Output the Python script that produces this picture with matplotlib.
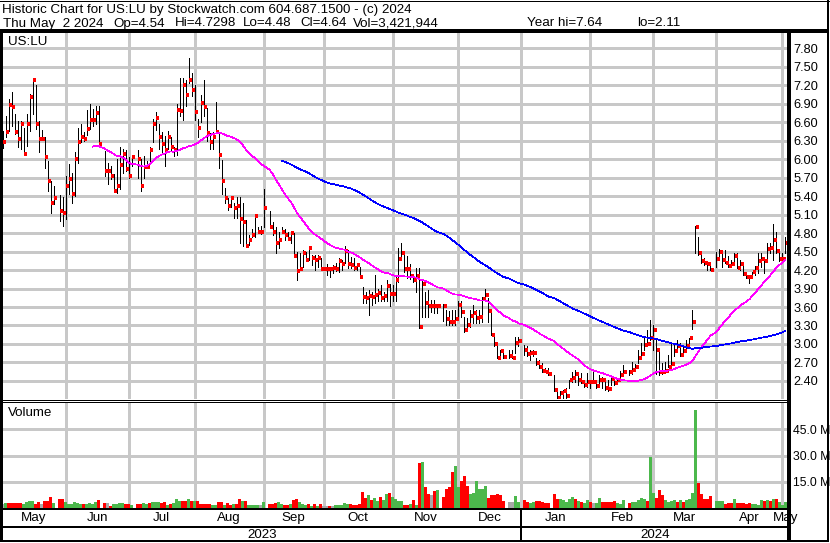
import numpy as np
import pandas as pd
import matplotlib
matplotlib.use("Agg")
import matplotlib.pyplot as plt
from matplotlib.lines import Line2D
from matplotlib.transforms import blended_transform_factory

plt.rcParams['font.family'] = ['Liberation Sans', 'DejaVu Sans']

# ---------------- data ----------------
first_day = "2023-05-03"
last_day = "2024-05-02"
holidays = ["2023-05-29", "2023-06-19", "2023-07-04", "2023-09-04", "2023-11-23",
            "2023-12-25", "2024-01-01", "2024-01-15", "2024-02-19", "2024-03-29"]

high = [
    6.45, 6.70, 6.97, 7.09, 6.73, 6.62, 6.61, 6.50, 6.73, 7.05, 7.32, 7.20, 6.62, 6.47, 6.36, 5.96, 5.65, 5.56,
    5.42, 5.38, 5.73, 5.92, 5.78, 6.11, 6.50, 6.56, 6.43, 6.79, 6.89, 6.81, 6.86, 6.86,
    6.13, 5.93, 5.89, 5.75, 6.00, 6.19, 6.17, 6.15, 6.04, 6.04,
    6.14, 6.00, 6.05, 5.97, 6.20, 6.65, 6.77, 6.56, 6.43, 6.38, 6.46, 6.36, 6.20,
    6.89, 7.32, 7.32, 7.28, 7.64, 7.40, 7.20, 6.65, 7.04, 7.28, 6.83, 6.42, 6.44, 6.93, 6.42,
    5.98, 5.53, 5.36, 5.37, 5.28, 5.38, 5.38, 5.28, 5.01, 4.77, 4.86, 5.08, 4.90, 4.92, 5.51,
    5.16, 4.98, 4.90, 4.82, 4.90, 4.86, 4.82, 4.82, 4.80, 4.50,
    4.47, 4.52, 4.50, 4.58, 4.44, 4.44, 4.44, 4.39, 4.25, 4.30,
    4.25, 4.28, 4.31, 4.39, 4.36, 4.59, 4.52, 4.41, 4.39, 4.31,
    4.25, 3.93, 3.85, 3.88, 3.85, 4.12, 3.90, 3.96, 3.85, 4.03,
    3.98, 3.96, 4.12, 4.55, 4.63, 4.45, 4.42, 4.30, 4.12, 4.23,
    4.23, 4.03, 3.85, 3.88, 3.71, 3.71, 3.65,
    3.65, 3.55, 3.53, 3.55, 3.55, 3.70, 3.69, 3.44, 3.42, 3.55,
    3.63, 3.55, 3.55, 3.76, 3.90, 3.74, 3.50, 3.15, 3.01, 2.90, 2.90,
    2.90, 2.90, 3.12, 3.12,
    2.98, 2.96, 2.90, 2.90, 2.77, 2.74, 2.69, 2.61, 2.61,
    2.50, 2.23, 2.23, 2.25, 2.28, 2.42, 2.55, 2.58, 2.50, 2.53,
    2.42, 2.53, 2.42, 2.55, 2.39, 2.50, 2.46, 2.42, 2.42, 2.49, 2.46, 2.44, 2.57, 2.66,
    2.58, 2.71, 2.67, 2.90, 3.01, 3.09, 3.23, 3.39, 3.31, 3.09,
    2.90, 2.69, 2.71, 2.82, 3.01, 3.01, 3.07, 3.01, 2.98, 3.07,
    3.10, 3.55, 4.91, 4.74, 4.47, 4.39, 4.34, 4.31,
    4.50, 4.54, 4.50, 4.52, 4.42, 4.36, 4.47, 4.47, 4.36, 4.31,
    4.17, 4.12, 4.17, 4.26, 4.47, 4.47, 4.39, 4.63, 4.63, 4.95,
    4.82, 4.52, 4.47, 4.73,
]
low = [
    6.18, 6.35, 6.46, 6.54, 6.40, 6.20, 6.16, 6.08, 6.21, 6.46, 6.73, 6.49, 6.12, 6.32, 5.86, 5.48, 5.13, 5.27,
    5.00, 4.92, 5.02, 5.43, 5.28, 5.40, 5.93, 6.27, 6.29, 6.39, 6.48, 6.54, 6.56, 6.21,
    5.73, 5.59, 5.67, 5.46, 5.45, 5.51, 5.78, 5.81, 5.70, 5.89,
    5.70, 5.48, 5.70, 5.86, 5.94, 6.28, 6.47, 6.16, 6.11, 5.89, 6.16, 6.13, 6.05,
    6.06, 6.70, 6.64, 6.86, 7.24, 7.02, 6.63, 6.36, 6.60, 6.70, 6.30, 6.16, 6.16, 6.42, 5.85,
    5.44, 5.28, 5.17, 5.22, 5.04, 5.04, 4.63, 4.59, 4.59, 4.61, 4.74, 4.74, 4.80, 4.78, 4.90,
    4.90, 4.77, 4.48, 4.55, 4.80, 4.69, 4.69, 4.63, 4.43, 4.03,
    4.20, 4.25, 4.34, 4.36, 4.28, 4.20, 4.25, 4.20, 4.20, 4.12,
    4.08, 4.15, 4.19, 4.17, 4.20, 4.31, 4.24, 4.24, 4.20, 4.20,
    4.07, 3.66, 3.66, 3.47, 3.63, 3.66, 3.69, 3.69, 3.69, 3.69,
    3.62, 3.70, 3.69, 4.01, 4.42, 4.17, 4.07, 4.06, 4.01, 3.85,
    3.26, 3.44, 3.44, 3.44, 3.52, 3.50, 3.50,
    3.37, 3.31, 3.30, 3.30, 3.31, 3.40, 3.44, 3.20, 3.26, 3.28,
    3.34, 3.34, 3.34, 3.36, 3.69, 3.36, 3.15, 2.96, 2.77, 2.77, 2.77,
    2.78, 2.77, 2.85, 2.96,
    2.82, 2.80, 2.74, 2.80, 2.66, 2.61, 2.55, 2.55, 2.50,
    2.23, 2.11, 2.12, 2.12, 2.12, 2.28, 2.39, 2.39, 2.34, 2.36,
    2.31, 2.31, 2.29, 2.36, 2.28, 2.34, 2.28, 2.25, 2.23, 2.33, 2.33, 2.36, 2.40, 2.50,
    2.50, 2.52, 2.58, 2.69, 2.77, 2.90, 2.98, 3.07, 2.90, 2.52,
    2.50, 2.52, 2.55, 2.63, 2.63, 2.80, 2.88, 2.80, 2.82, 2.93,
    3.01, 3.25, 4.47, 4.44, 4.31, 4.28, 4.20, 4.20,
    4.25, 4.36, 4.25, 4.31, 4.25, 4.25, 4.33, 4.23, 4.20, 4.12,
    4.07, 3.99, 4.07, 4.12, 4.15, 4.25, 4.15, 4.34, 4.47, 4.36,
    4.47, 4.34, 4.34, 4.48,
]
close = [
    6.28, 6.44, 6.88, 6.85, 6.44, 6.33, 6.57, 6.08, 6.57, 7.01, 7.28, 6.57, 6.33, 6.33, 6.04, 5.65, 5.29, 5.37,
    5.15, 5.12, 5.56, 5.68, 5.43, 6.00, 6.28, 6.36, 6.32, 6.48, 6.64, 6.64, 6.75, 6.24,
    5.81, 5.81, 5.73, 5.48, 5.56, 5.90, 6.08, 5.83, 5.73, 6.04,
    6.00, 5.56, 5.87, 5.87, 6.14, 6.57, 6.66, 6.36, 6.25, 6.14, 6.36, 6.20, 6.14,
    6.79, 6.78, 7.20, 7.04, 7.28, 7.12, 6.77, 6.51, 6.91, 6.84, 6.42, 6.27, 6.35, 6.43, 6.07,
    5.64, 5.36, 5.23, 5.36, 5.20, 5.23, 5.03, 4.98, 4.59, 4.68, 4.76, 5.07, 4.82, 4.82, 5.20,
    4.90, 4.82, 4.63, 4.68, 4.82, 4.76, 4.71, 4.80, 4.43, 4.19,
    4.22, 4.47, 4.36, 4.55, 4.40, 4.36, 4.39, 4.22, 4.22, 4.22,
    4.22, 4.24, 4.22, 4.35, 4.30, 4.51, 4.30, 4.28, 4.23, 4.28,
    4.08, 3.77, 3.75, 3.78, 3.77, 3.79, 3.83, 3.75, 3.78, 3.94,
    3.81, 3.81, 4.03, 4.38, 4.47, 4.22, 4.22, 4.11, 4.03, 4.10,
    3.28, 3.97, 3.67, 3.62, 3.62, 3.62, 3.61,
    3.61, 3.40, 3.36, 3.36, 3.40, 3.63, 3.52, 3.22, 3.31, 3.45,
    3.50, 3.42, 3.43, 3.73, 3.80, 3.54, 3.15, 3.00, 2.78, 2.88, 2.79,
    2.80, 2.78, 3.01, 3.05,
    2.91, 2.84, 2.85, 2.85, 2.69, 2.62, 2.56, 2.55, 2.52,
    2.25, 2.13, 2.20, 2.23, 2.15, 2.41, 2.45, 2.51, 2.41, 2.39,
    2.34, 2.38, 2.39, 2.39, 2.32, 2.42, 2.42, 2.28, 2.27, 2.44, 2.36, 2.41, 2.49, 2.54,
    2.54, 2.58, 2.63, 2.77, 2.84, 2.98, 3.00, 3.10, 3.22, 2.90,
    2.54, 2.54, 2.57, 2.63, 2.68, 2.89, 2.96, 2.82, 2.89, 2.96,
    3.09, 3.36, 4.90, 4.47, 4.34, 4.31, 4.29, 4.20,
    4.38, 4.50, 4.36, 4.32, 4.27, 4.29, 4.43, 4.24, 4.29, 4.13,
    4.09, 4.08, 4.16, 4.23, 4.34, 4.38, 4.35, 4.54, 4.55, 4.68,
    4.51, 4.38, 4.38, 4.64,
]
volume_m = [
    2.5, 3.0, 2.8, 2.8, 2.8, 3.0, 3.2, 2.1, 3.4, 4.2, 3.8, 2.5, 3.6, 2.1, 4.2, 4.2, 6.4, 3.0,
    5.3, 5.3, 3.4, 2.1, 2.6, 3.6, 3.0, 2.6, 2.1, 2.6, 3.0, 2.6, 3.6, 4.7,
    3.0, 3.0, 1.3, 2.1, 2.5, 2.8, 3.0, 2.5, 2.5, 1.9,
    2.5, 2.5, 3.0, 2.6, 3.0, 3.6, 3.6, 3.6, 3.0, 3.6, 1.9, 2.5, 3.0,
    5.3, 4.3, 4.2, 4.2, 5.3, 4.2, 4.0, 4.0, 2.5, 2.5, 2.5, 2.5, 1.9, 1.9, 3.6,
    3.6, 1.9, 3.0, 1.9, 2.5, 2.5, 5.3, 4.2, 4.2, 1.9, 1.9, 1.9, 1.9, 1.9, 3.6,
    2.5, 2.5, 3.0, 3.6, 2.5, 1.9, 1.9, 2.5, 4.7, 5.1,
    3.6, 2.5, 1.9, 2.5, 1.3, 2.5, 1.3, 2.5, 1.3, 1.3,
    1.3, 1.3, 1.9, 1.9, 1.9, 3.0, 2.5, 2.5, 1.9, 1.9,
    2.5, 9.2, 5.8, 7.5, 4.7, 5.8, 4.2, 6.4, 4.7, 8.1,
    8.7, 6.4, 5.3, 4.2, 4.2, 1.9, 1.9, 2.5, 4.7, 1.9,
    25.5, 26.2, 12.1, 8.3, 7.2, 9.8, 10.4,
    6.6, 10.9, 12.1, 20.6, 24.2, 12.1, 15.7, 18.3, 12.6, 8.1,
    8.7, 15.5, 10.9, 10.9, 12.6, 6.0, 7.5, 7.5, 8.1, 7.5, 4.2,
    3.6, 3.6, 7.0, 3.6,
    4.7, 3.6, 3.0, 3.6, 4.2, 3.8, 3.6, 3.0, 3.0,
    8.1, 5.3, 5.3, 4.7, 3.6, 5.3, 6.4, 5.3, 4.2, 3.6,
    3.0, 4.7, 3.6, 3.0, 3.0, 5.8, 3.6, 3.6, 3.6, 3.6, 4.2, 3.0, 2.5, 4.7,
    3.0, 3.6, 3.6, 4.7, 5.8, 5.3, 4.2, 29.2, 8.7, 5.8,
    10.4, 7.5, 4.7, 3.6, 4.2, 4.7, 3.6, 4.7, 3.6, 4.7,
    5.3, 8.7, 55.7, 14.3, 8.1, 5.3, 5.3, 7.0,
    4.2, 4.2, 4.2, 2.5, 3.0, 3.0, 5.3, 3.0, 3.0, 3.0,
    2.5, 3.0, 2.5, 2.5, 1.9, 4.7, 4.2, 4.7, 4.2, 5.3,
    5.3, 3.6, 1.9, 3.4,
]
# u = up (green), d = down (red), n = unchanged (grey)
vol_dir = ("nuddddduuuuddndddu" "dduuuuuuduuuud" "dnduuuuddu"
           "dduuduuuddudu" "uuddududdddduud" "duddudduduuuunu"
           "ddduuddudd" "uuudududnn" "dnuuuuuddd" "ddduduuduu" "duuuuddudu" "duddndu"
           "dddduuddduuuuuudddddd" "nnuu" "dduuddddd"
           "dduuuuudud" "uudnuudddd" "duuu"
           "duuuuuduud" "dduuuududu" "uuuddddd"
           "uuuddduddd" "dduuuududu" "duuu")

ticker = "US:LU"
title_line1 = "Historic Chart for US:LU by Stockwatch.com 604.687.1500 - (c) 2024"
title_fields = ["Thu May  2 2024", "Op=4.54", "Hi=4.7298", "Lo=4.48", "Cl=4.64",
                "Vol=3,421,944", "Year hi=7.64", "lo=2.11"]
price_ticks = [2.40, 2.70, 3.00, 3.30, 3.60, 3.90, 4.20, 4.50, 4.80, 5.10,
               5.40, 5.70, 6.00, 6.30, 6.60, 6.90, 7.20, 7.50, 7.80]
volume_ticks = [15, 30, 45]
month_names = ["May", "Jun", "Jul", "Aug", "Sep", "Oct", "Nov", "Dec",
               "Jan", "Feb", "Mar", "Apr", "May"]
year_names = ["2023", "2024"]
ma_short, ma_long = 30, 90

# ---------------- positions (weekday slots) ----------------
bdays = pd.bdate_range(first_day, last_day)
trade_days = bdays[~bdays.isin(pd.to_datetime(holidays))]
d0 = np.datetime64(first_day)
slot = np.busday_count(d0, trade_days.values.astype('datetime64[D]')).astype(float)
n = min(len(slot), len(close), len(high), len(low), len(volume_m), len(vol_dir))
slot = slot[:n]
high = np.array(high[:n]); low = np.array(low[:n]); close = np.array(close[:n])
volume_m = np.array(volume_m[:n]); vol_dir = vol_dir[:n]

month_starts = pd.date_range("2023-06-01", "2024-05-01", freq="MS")
month_lines = [int(np.busday_count(d0, np.busday_offset(np.datetime64(m.date()), 0, roll='backward')))
               for m in month_starts]
year_line = month_lines[7]  # January 2024

# ---------------- figure layout ----------------
W, H = 830, 543
fig = plt.figure(figsize=(W / 100, H / 100), dpi=100)
fig.patch.set_facecolor('white')

def fx(px):
    return px / W

def fy(py):
    return 1 - py / H

XMIN, XMAX = -0.17, 262.17
GRID = '#c8c8c8'
FS = 9.6

ax = fig.add_axes([fx(2), fy(399), 787 / W, 368 / H])
axv = fig.add_axes([fx(2), fy(509), 787 / W, 107 / H])

for a in (ax, axv):
    a.set_xlim(XMIN, XMAX)
    for s in a.spines.values():
        s.set_visible(False)
    a.set_xticks(month_lines)
    a.tick_params(axis='x', length=0, labelbottom=False)
    a.tick_params(axis='y', length=0, pad=3.2, labelsize=9.2, labelright=True,
                  labelleft=False, labelcolor='black')
    a.grid(True, color=GRID, lw=0.75, antialiased=False)
    a.set_axisbelow(True)

# price panel
ax.set_ylim(2.108, 8.076)
ax.set_yticks(price_ticks)
ax.set_yticklabels([f"{v:.2f}" for v in price_ticks])
ax.vlines(slot, low, high, color='black', lw=0.6, antialiased=False, zorder=3)
ax.hlines(close, slot + 0.2, slot + 1.1, color='#ff0000', lw=1.7, antialiased=False, zorder=4)
ma_s = pd.Series(close).rolling(ma_short).mean().values
ma_l = pd.Series(close).rolling(ma_long).mean().values
ax.plot(slot, ma_s, color='#ff00ff', lw=0.5, antialiased=False, zorder=5)
ax.plot(slot, ma_l, color='#0000ff', lw=0.5, antialiased=False, zorder=5)
fig.text(fx(8), fy(42), ticker, fontsize=FS, va='center', ha='left')

# volume panel
vcol = {'u': '#4cb84c', 'd': '#ff0000', 'n': '#a8a8a8'}
axv.set_ylim(-0.5, 60.5)
axv.set_yticks(volume_ticks)
axv.set_yticklabels([f"{v:.1f} M" for v in volume_ticks])
axv.tick_params(axis='y', labelsize=8.8, pad=2.6)
axv.bar(slot, volume_m, width=0.72, color=[vcol[c] for c in vol_dir],
        antialiased=False, zorder=3, linewidth=0)
fig.text(fx(8), fy(413), "Volume", fontsize=FS, va='center', ha='left')

# title
fig.text(fx(2), fy(10), title_line1, fontsize=FS, va='center', ha='left')
field_x = [3, 113, 175, 243, 300, 353, 527, 637]
for px, t in zip(field_x, title_fields):
    fig.text(fx(px), fy(23.5), t, fontsize=FS, va='center', ha='left')

# month / year rows
bt = blended_transform_factory(ax.transData, fig.transFigure)
edges = [XMIN] + month_lines + [XMAX]
for i, name in enumerate(month_names):
    cx = (edges[i] + edges[i + 1]) / 2
    fig.text(cx, fy(518), name, transform=bt, fontsize=FS, ha='center', va='center')
year_edges = [XMIN, year_line, XMAX]
for i, name in enumerate(year_names):
    cx = (year_edges[i] + year_edges[i + 1]) / 2
    fig.text(cx, fy(534.5), name, transform=bt, fontsize=FS, ha='center', va='center')

# frame lines
def hline(y, x0, x1, lw_px):
    fig.add_artist(Line2D([fx(x0), fx(x1)], [fy(y), fy(y)], transform=fig.transFigure,
                          color='black', lw=lw_px * 0.72, antialiased=False,
                          solid_capstyle='butt', zorder=10))

def vline(x, y0, y1, lw_px):
    fig.add_artist(Line2D([fx(x), fx(x)], [fy(y0), fy(y1)], transform=fig.transFigure,
                          color='black', lw=lw_px * 0.72, antialiased=False,
                          solid_capstyle='butt', zorder=10))

hline(0.5, 0, 830, 1)
hline(31, 0, 828, 2.5)
hline(399.5, 0, 789, 1)
hline(402, 0, 789, 1)
hline(509, 0, 789, 2)
hline(527, 0, 789, 2)
hline(541, 0, 828, 2)
vline(1, 30, 542, 2.5)
vline(788.5, 30, 542, 2.5)
vline(827.5, 0, 542, 2)
fig.add_artist(Line2D([year_line, year_line], [fy(509), fy(541)], transform=bt,
                      color='black', lw=2 * 0.72, antialiased=False, zorder=10))

fig.savefig("out.png", dpi=100, facecolor='white')
